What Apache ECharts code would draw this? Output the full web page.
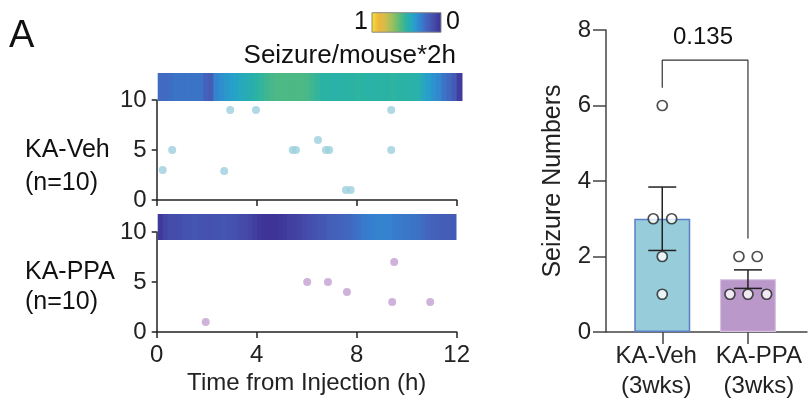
<!DOCTYPE html>
<html><head><meta charset="utf-8">
<script src="https://cdn.jsdelivr.net/npm/echarts@6/dist/echarts.min.js"></script>
<style>html,body{margin:0;padding:0;background:#fff}#c{width:812px;height:409px}</style>
</head><body><div id="c"></div>
<script>
const FONT = 'Liberation Sans, Arial, sans-serif';
// seizure/mouse*2h heat strips, 0.2 h bins over 12 h (normalized 0..1)
const vehHeat = [0.23,0.23,0.24,0.26,0.26,0.26,0.26,0.26,0.26,0.20,
                 0.18,0.31,0.34,0.37,0.39,0.41,0.44,0.46,0.47,0.50,
                 0.52,0.54,0.56,0.57,0.57,0.57,0.57,0.57,0.57,0.56,
                 0.54,0.52,0.50,0.50,0.49,0.49,0.50,0.50,0.50,0.51,
                 0.50,0.50,0.49,0.50,0.50,0.50,0.51,0.50,0.50,0.49,
                 0.49,0.48,0.42,0.39,0.35,0.32,0.26,0.22,0.17,0.05];
const ppaHeat = [0.04,0.09,0.11,0.11,0.12,0.14,0.14,0.15,0.14,0.14,
                 0.13,0.14,0.14,0.15,0.14,0.13,0.11,0.10,0.09,0.06,
                 0.03,0.02,0.02,0.02,0.03,0.04,0.06,0.07,0.08,0.10,
                 0.12,0.13,0.15,0.16,0.18,0.19,0.20,0.21,0.22,0.24,
                 0.26,0.28,0.29,0.30,0.31,0.31,0.31,0.29,0.28,0.27,
                 0.27,0.26,0.25,0.23,0.21,0.20,0.19,0.18,0.18,0.17];
// seizure events: [time from injection (h), mouse #]
const vehEvents = [[0.24,3],[0.62,5],[2.7,2.9],[2.94,9],[3.97,9],[5.44,5],[5.57,5],
                   [6.45,6],[6.77,5],[6.9,5],[7.57,1],[7.76,1],[9.38,9],[9.38,5]];
const ppaEvents = [[1.96,1],[6.02,5],[6.85,5],[7.61,4],[9.5,7],[9.42,3],[10.94,3]];
const timeTicks = [0, 4, 8, 12];
// bar panel
const barCategories = ['KA-Veh\n(3wks)', 'KA-PPA\n(3wks)'];
const barMeans = [3.0, 1.4];
const barSem = [0.84, 0.245];
const vehMice = [6, 3, 3, 2, 1];
const ppaMice = [2, 2, 1, 1, 1];
const vehJitter = [0, -0.105, 0.11, 0, 0];
const ppaJitter = [-0.105, 0.108, -0.21, 0, 0.218];
const pValue = '0.135';
const bracket = [[0, 6.47], [0, 7.2], [1, 7.2], [1, 2.48]];
const colorbarText = ['1', '0'];

const axisCol = '#222';
const parula = ['#3c2f94','#4549a8','#4462bb','#3580cf','#26a2ca','#2ab3a4',
                '#5cbb78','#98bf60','#d0bd4c','#f0b53d','#f3e52c'];

const chart = echarts.init(document.getElementById('c'));
const leftY = (gi) => ({
  gridIndex: gi, type: 'value', min: 0, max: 10, interval: 5,
  axisLine: {show: true, lineStyle: {color: axisCol, width: 1.5}},
  axisTick: {show: true, length: 5, lineStyle: {color: axisCol, width: 1.5}},
  axisLabel: {fontSize: 24, color: axisCol, fontFamily: FONT, margin: 10},
  splitLine: {show: false}
});
const stripRender = (params, api) => {
  const i = api.value(0);
  const a = api.coord([i, 1]), b = api.coord([i + 1, 0]);
  return {type: 'rect', shape: {x: a[0], y: a[1], width: b[0] - a[0] + 0.8, height: b[1] - a[1]},
          style: {fill: api.visual('color')}};
};
const txt = (x, y, text, size, align) => ({
  type: 'text', x: x, y: y, z: 10,
  style: {text: text, fontSize: size, fontFamily: FONT, fill: '#111',
          align: align || 'left', verticalAlign: 'middle',
          textAlign: align || 'left', textVerticalAlign: 'middle'}
});
// colour bar: high value (1) on the left
const cbStops = parula.map((c, i) => ({offset: 1 - i / (parula.length - 1), color: c})).reverse();
const option = {
  animation: false,
  backgroundColor: '#fff',
  textStyle: {fontFamily: FONT},
  grid: [
    {left: 157.7, top: 73, width: 304, height: 28},
    {left: 156.7, top: 100, width: 300, height: 100},
    {left: 157.7, top: 214, width: 298, height: 26},
    {left: 156.7, top: 232, width: 300, height: 100},
    {left: 606, top: 30, width: 201, height: 302},
    {left: 619.4, top: 30, width: 171.4, height: 302}
  ],
  visualMap: {
    type: 'continuous', show: false, seriesIndex: [0, 1], dimension: 2, min: 0, max: 1,
    inRange: {color: parula}
  },
  xAxis: [
    {gridIndex: 0, type: 'value', min: 0, max: vehHeat.length, show: false},
    {gridIndex: 1, type: 'value', min: 0, max: 12, interval: 4,
     axisLine: {show: true, lineStyle: {color: axisCol, width: 1.5}},
     axisTick: {show: true, length: 6, lineStyle: {color: axisCol, width: 1.5}},
     axisLabel: {show: false}, splitLine: {show: false}},
    {gridIndex: 2, type: 'value', min: 0, max: ppaHeat.length, show: false},
    {gridIndex: 3, type: 'value', min: 0, max: 12, interval: 4,
     axisLine: {show: true, lineStyle: {color: axisCol, width: 1.5}},
     axisTick: {show: true, length: 6, lineStyle: {color: axisCol, width: 1.5}},
     axisLabel: {fontSize: 24, color: axisCol, fontFamily: FONT, margin: 11,
                 formatter: v => timeTicks.includes(v) ? String(v) : ''},
     splitLine: {show: false},
     name: 'Time from Injection (h)', nameLocation: 'middle', nameGap: 39,
     nameTextStyle: {fontSize: 24, color: axisCol, fontFamily: FONT}},
    {gridIndex: 4, type: 'value', min: 0, max: 1,
     axisLine: {show: true, lineStyle: {color: '#444', width: 1.5}},
     axisTick: {show: false}, axisLabel: {show: false}, splitLine: {show: false}},
    {gridIndex: 5, type: 'category', data: barCategories,
     axisLine: {show: false},
     axisTick: {show: true, alignWithLabel: true, length: 12, lineStyle: {color: '#444', width: 1.5}},
     axisLabel: {interval: 0, margin: 9, color: axisCol,
                 formatter: (v, i) => v.split('\n').map(s => i === 0 ? `{l|${s}}` : `{r|${s}}`).join('\n'),
                 rich: {
                   l: {fontSize: 24, fontFamily: FONT, color: axisCol, lineHeight: 30, padding: [0, 12, 0, 0]},
                   r: {fontSize: 24, fontFamily: FONT, color: axisCol, lineHeight: 30, padding: [0, 0, 0, 22]}
                 }}},
    {gridIndex: 5, type: 'value', min: -0.5, max: 1.5, show: false}
  ],
  yAxis: [
    {gridIndex: 0, type: 'value', min: 0, max: 1, show: false},
    leftY(1),
    {gridIndex: 2, type: 'value', min: 0, max: 1, show: false},
    leftY(3),
    {gridIndex: 4, type: 'value', min: 0, max: 8, interval: 2,
     axisLine: {show: true, lineStyle: {color: '#444', width: 1.5}},
     axisTick: {show: true, length: 13, lineStyle: {color: '#444', width: 1.5}},
     axisLabel: {fontSize: 24, color: axisCol, fontFamily: FONT, margin: 15},
     splitLine: {show: false},
     name: 'Seizure Numbers', nameLocation: 'middle', nameGap: 40,
     nameTextStyle: {fontSize: 25, color: axisCol, fontFamily: FONT}},
    {gridIndex: 5, type: 'value', min: 0, max: 8, show: false}
  ],
  series: [
    {type: 'custom', xAxisIndex: 0, yAxisIndex: 0, z: 5, renderItem: stripRender,
     data: vehHeat.map((v, i) => [i, 0, v])},
    {type: 'custom', xAxisIndex: 2, yAxisIndex: 2, z: 5, renderItem: stripRender,
     data: ppaHeat.map((v, i) => [i, 0, v])},
    {type: 'scatter', xAxisIndex: 1, yAxisIndex: 1, symbolSize: 8,
     itemStyle: {color: '#9ccfdf'}, data: vehEvents},
    {type: 'scatter', xAxisIndex: 3, yAxisIndex: 3, symbolSize: 8,
     itemStyle: {color: '#c3a0d1'}, data: ppaEvents},
    {type: 'bar', xAxisIndex: 5, yAxisIndex: 5, barWidth: 56, z: 2,
     data: [
       {value: barMeans[0], itemStyle: {color: '#97cddb', borderColor: '#5a80c8', borderWidth: 1.5}},
       {value: barMeans[1], itemStyle: {color: '#ba98c9', borderColor: '#d7c0e2', borderWidth: 1.2}}
     ]},
    {type: 'custom', xAxisIndex: 6, yAxisIndex: 5, z: 4,
     data: barMeans.map((m, i) => [i, m, barSem[i]]),
     renderItem: (params, api) => {
       const x = api.value(0), m = api.value(1), s = api.value(2);
       const hi = api.coord([x, m + s]), lo = api.coord([x, m - s]);
       const st = {stroke: '#222', lineWidth: 1.5};
       return {type: 'group', children: [
         {type: 'line', shape: {x1: hi[0], y1: hi[1], x2: lo[0], y2: lo[1]}, style: st},
         {type: 'line', shape: {x1: hi[0] - 14, y1: hi[1], x2: hi[0] + 14, y2: hi[1]}, style: st},
         {type: 'line', shape: {x1: lo[0] - 14, y1: lo[1], x2: lo[0] + 14, y2: lo[1]}, style: st}
       ]};
     }},
    {type: 'line', xAxisIndex: 6, yAxisIndex: 5, symbol: 'none', z: 3,
     lineStyle: {color: '#333', width: 1.2}, data: bracket},
    {type: 'scatter', xAxisIndex: 6, yAxisIndex: 5, symbolSize: 10, z: 6,
     itemStyle: {color: '#fff', borderColor: '#222', borderWidth: 1.7},
     data: vehMice.map((v, i) => [0 + vehJitter[i], v]).concat(ppaMice.map((v, i) => [1 + ppaJitter[i], v]))}
  ],
  graphic: [
    {type: 'rect', shape: {x: 372, y: 12.7, width: 69, height: 19.5}, z: 10,
     style: {fill: new echarts.graphic.LinearGradient(0, 0, 1, 0, cbStops), stroke: '#888', lineWidth: 1}},
    txt(368, 22.6, colorbarText[0], 25, 'right'),
    txt(446, 22.6, colorbarText[1], 25, 'left'),
    txt(9, 37, 'A', 38),
    txt(456, 56, 'Seizure/mouse*2h', 26, 'right'),
    txt(25, 150, 'KA-Veh', 25),
    txt(25, 183, '(n=10)', 25),
    txt(25, 272, 'KA-PPA', 25),
    txt(25, 302, '(n=10)', 25),
    txt(703, 37, pValue, 24, 'center')
  ]
};
chart.setOption(option);
</script></body></html>
